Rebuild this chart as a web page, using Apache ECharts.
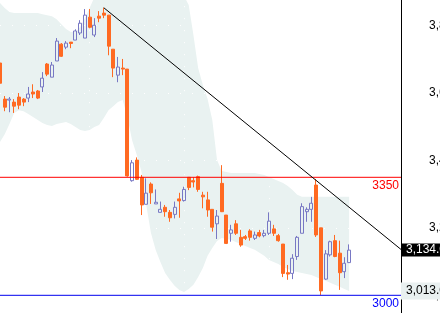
<!DOCTYPE html>
<html>
<head>
<meta charset="utf-8">
<script src="https://cdn.jsdelivr.net/npm/echarts@6/dist/echarts.min.js"></script>
<style>html,body{margin:0;padding:0;background:#fff;}#c{width:440px;height:313px;}</style>
</head>
<body>
<div id="c"></div>
<script>
// ---- data ----
const categories = Array.from({ length: 86 }, (_, i) => String(i + 1));
// [open, close, low, high]
const ohlc = [
  [3689,3629,3626,3692],[3582,3558,3546,3591],[3579,3582,3543,3588],[3573,3561,3541,3582],
  [3588,3564,3552,3600],[3582,3573,3561,3585],[3585,3597,3573,3618],[3603,3597,3585,3626],
  [3606,3585,3582,3609],[3618,3644,3603,3662],[3686,3656,3650,3689],[3647,3683,3647,3692],
  [3695,3754,3695,3763],[3745,3709,3707,3748],[3736,3748,3730,3754],[3751,3747,3733,3751],
  [3757,3784,3757,3789],[3778,3807,3772,3816],[3763,3831,3763,3849],[3825,3795,3792,3849],
  [3772,3801,3766,3822],[3828,3822,3810,3843],[3837,3831,3822,3853],[3831,3739,3712,3831],
  [3730,3674,3647,3730],[3653,3677,3632,3707],[3674,3671,3653,3701],[3671,3354,3352,3671],
  [3340,3393,3337,3401],[3401,3344,3342,3409],[3350,3268,3238,3357],[3270,3303,3270,3347],
  [3330,3304,3271,3335],[3271,3276,3271,3314],[3246,3255,3246,3278],[3261,3248,3233,3268],
  [3246,3230,3218,3253],[3240,3261,3228,3278],[3286,3280,3230,3304],[3281,3314,3278,3322],
  [3350,3320,3312,3350],[3340,3336,3320,3350],[3352,3314,3307,3355],[3297,3292,3258,3307],
  [3283,3253,3233,3307],[3255,3202,3189,3255],[3212,3235,3167,3253],[3332,3248,3247,3386],
  [3238,3154,3152,3238],[3184,3194,3159,3209],[3212,3184,3179,3223],[3172,3149,3144,3194],
  [3174,3169,3164,3179],[3191,3172,3162,3196],[3169,3179,3164,3189],[3186,3176,3172,3194],
  [3177,3184,3172,3194],[3184,3220,3179,3246],[3197,3184,3176,3209],[3177,3162,3159,3182],
  [3152,3065,3054,3152],[3067,3063,3046,3090],[3065,3110,3048,3122],[3115,3172,3105,3176],
  [3184,3263,3184,3273],[3248,3255,3218,3261],[3255,3273,3218,3292],[3327,3179,3173,3345],
  [3200,3013,3001,3200],[3048,3123,3046,3134],[3120,3159,3115,3162],[3162,3115,3113,3179],
  [3125,3067,3016,3162],[3070,3095,3051,3113],[3097,3134,3097,3151]
];
const upperBand = [3867,3852,3840,3837,3837,3837,3837,3837,3837,3834,3831,3828,3819,3804,3790,3781,3781,3796,3822,3852,3884,
  3902,3918,3930,3940,3946,3950,3960,3968,3972,3975,3975,3972,3968,3960,3950,3938,3922,3905,3888,
  3861,3772,3674,3624,3582,3520,3401,3369,
  3366,3363,3363,3363,3363,3363,3363,
  3360,3357,3351,3345,3339,3333,3324,3312,3298,
  3292,3292,3292,3292,3292,3292,3292,3292,3292,3292,3292];
const lowerBand = [3455,3478,3508,3541,3549,3546,3538,3529,3520,3511,
  3505,3502,3508,3511,3514,3508,3499,3490,3487,3490,
  3499,3505,3526,3549,3561,3573,3579,3529,3460,3416,
  3366,3268,3185,3134,3099,3066,3046,3028,3016,3010,
  3019,3031,3054,3081,3117,3140,3161,3170,3167,3164,
  3158,3152,3146,3140,3135,3126,3117,3105,3099,3093,
  3084,3078,3072,3069,3066,3063,3060,3054,3048,3043,
  3037,3031,3025,3019,3013];
const yMin = 2800, yMax = 4000, yStep = 200;
const resistance = 3350, support = 3000;
const trendStart = [22, 3853], trendEnd = [85, 3136];
const monthBreaks = [19, 39, 57];

// ---- chart ----
const fmt2 = v => v.toLocaleString('en-US', { minimumFractionDigits: 2, maximumFractionDigits: 2 });
const lastClose = ohlc[ohlc.length - 1][1];
const lastLower = lowerBand[lowerBand.length - 1];
const firstCat = categories[0], lastCat = categories[categories.length - 1];
const chart = echarts.init(document.getElementById('c'), null, { renderer: 'canvas' });
const orange = '#ff6a22', purple = '#7878c4';
const red = '#ff0000', blue = '#0000ee';
function levelSeries(value, color) {
  return {
    type: 'line', data: [[firstCat, value], [lastCat, value]], color: color, z: 4, silent: true,
    symbol: 'none', clip: false,
    lineStyle: { color: color, width: 1, type: 'solid' }
  };
}
function levelLabel(value, textColor) {
  return { yAxis: value, lineStyle: { color: 'transparent', width: 0 },
    label: { show: true, position: 'insideEndBottom', formatter: String(value), color: textColor, fontSize: 12, distance: 2 } };
}
chart.setOption({
  animation: false,
  textStyle: { fontFamily: 'Liberation Sans, Arial, sans-serif' },
  grid: { left: 0, right: 39, top: -41.84, bottom: -49.73, outerBoundsMode: 'none', containLabel: false },
  xAxis: {
    type: 'category', data: categories, boundaryGap: false, z: 2,
    axisLine: { show: false }, axisTick: { show: false }, axisLabel: { show: false },
    splitLine: { show: true, interval: (i) => monthBreaks.includes(i),
      lineStyle: { color: '#ffffff', type: [1, 11], width: 1 } }
  },
  yAxis: {
    type: 'value', position: 'right', min: yMin, max: yMax, interval: yStep, z: 2,
    axisLine: { show: true, lineStyle: { color: '#000', width: 1 } },
    axisTick: { show: false },
    axisLabel: { margin: 28, color: '#000', fontSize: 12, formatter: v => v.toLocaleString('en-US') },
    splitLine: { show: true, lineStyle: { color: '#ffffff', type: [1, 11], width: 1 } }
  },
  series: [
    { type: 'line', data: lowerBand, stack: 'bb', symbol: 'none', silent: true, z: 1,
      lineStyle: { width: 0, opacity: 0 } },
    { type: 'line', data: upperBand.map((u, i) => u - lowerBand[i]), stack: 'bb', symbol: 'none', silent: true, z: 1,
      lineStyle: { width: 0, opacity: 0 }, areaStyle: { color: '#e9f2f1', opacity: 1 } },
    levelSeries(resistance, red),
    levelSeries(support, blue),
    { type: 'candlestick', data: ohlc, barWidth: 3.5, z: 3,
      itemStyle: { color: 'transparent', color0: orange, borderColor: purple, borderColor0: orange, borderWidth: 1 },
      markLine: {
        symbol: ['none', 'none'], silent: true, animation: false, z: 5,
        data: [
          [ { coord: [categories[trendStart[0]], trendStart[1]], lineStyle: { color: '#000', type: 'solid', width: 1 }, label: { show: false } },
            { coord: [categories[trendEnd[0]], trendEnd[1]] } ],
          levelLabel(resistance, '#ff0000'),
          levelLabel(support, '#0000ff'),
          { yAxis: lastLower, lineStyle: { color: 'transparent', width: 0 },
            label: { show: true, position: 'end', formatter: fmt2(lastLower), color: '#000', fontSize: 12,
              backgroundColor: '#e9f0f0', padding: [3, 3, 2, 5], distance: 0 } },
          { yAxis: lastClose, lineStyle: { color: 'transparent', width: 0 },
            label: { show: true, position: 'end', formatter: fmt2(lastClose), color: '#fff', fontSize: 12,
              backgroundColor: '#000', padding: [1, 3, 0, 5], distance: 0 } }
        ]
      }
    }
  ]
});
</script>
</body>
</html>
